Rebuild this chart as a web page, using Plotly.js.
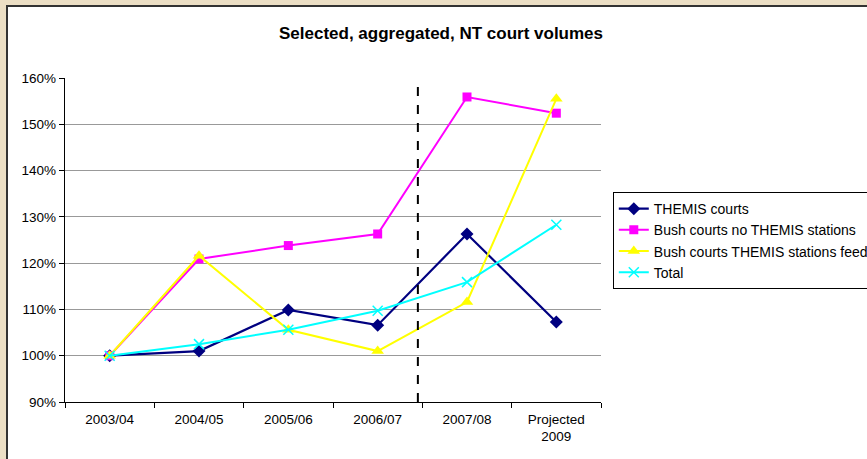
<!DOCTYPE html>
<html><head><meta charset="utf-8">
<script src="https://cdn.plot.ly/plotly-3.0.1.min.js"></script>
<style>
html,body{margin:0;padding:0;background:#ECDFC5;overflow:hidden;width:867px;height:459px;}
#wrap{position:absolute;left:6px;top:5px;width:870px;height:460px;border-left:2px solid #333;border-top:2px solid #333;background:#fff;}
#chart{width:870px;height:460px;}
</style></head>
<body><div id="wrap"><div id="chart"></div></div>
<script>
const categories = ["2003/04","2004/05","2005/06","2006/07","2007/08","Projected<br>2009"];
const themisCourts = [100, 101.0, 109.9, 106.6, 126.3, 107.3];
const bushNoThemis = [100, 120.9, 123.8, 126.3, 155.9, 152.4];
const bushThemisFeed = [100, 121.6, 105.6, 101.0, 111.6, 155.5];
const total = [100, 102.5, 105.6, 109.7, 115.9, 128.3];
const seriesNames = ["THEMIS courts","Bush courts no THEMIS stations","Bush courts THEMIS stations feed","Total"];
const dividerPosition = 3.45;

const traces = [
  {x: categories, y: themisCourts, name: seriesNames[0], mode: 'lines+markers',
   line:{color:'#000080', width:2.2}, marker:{symbol:'diamond', size:10, color:'#000080'}},
  {x: categories, y: bushNoThemis, name: seriesNames[1], mode: 'lines+markers',
   line:{color:'#FF00FF', width:2}, marker:{symbol:'square', size:9, color:'#FF00FF'}},
  {x: categories, y: bushThemisFeed, name: seriesNames[2], mode: 'lines+markers',
   line:{color:'#FFFF00', width:2}, marker:{symbol:'triangle-up', size:11, color:'#FFFF00'}},
  {x: categories, y: total, name: seriesNames[3], mode: 'lines+markers',
   line:{color:'#00FFFF', width:2}, marker:{symbol:'x-thin-open', size:10, line:{color:'#00FFFF', width:1.5}}}
];

const layout = {
  width: 870, height: 460,
  paper_bgcolor: '#fff', plot_bgcolor: '#fff',
  font: {family: 'Liberation Sans, Arial, sans-serif', size: 13.5, color: '#000'},
  margin: {l: 57, r: 277, t: 71, b: 65, autoexpand: false},
  title: {text: '<b>Selected, aggregated, NT court volumes</b>', font:{size:17}, xref:'container', x: 433/870, xanchor:'center', yref:'container', y: 1-26/460, yanchor:'middle'},
  showlegend: true,
  legend: {x: 1.022, xanchor:'left', y: 0.648, yanchor:'top', bordercolor:'#000', borderwidth:1, bgcolor:'#fff', font:{size:14}, tracegroupgap:0},
  xaxis: {type:'category', range:[-0.5,5.5], showline:true, linecolor:'#000', linewidth:1.3,
          ticks:'outside', tickson:'boundaries', ticklen:5, tickcolor:'#000', showgrid:false, zeroline:false, fixedrange:true, ticklabelstandoff:4},
  yaxis: {range:[90,160], dtick:10, ticksuffix:'%', showline:true, linecolor:'#000', linewidth:1.3,
          ticks:'outside', ticklen:5, tickcolor:'#000', showgrid:true, gridcolor:'#999', gridwidth:1, zeroline:false, fixedrange:true},
  shapes: [
    {type:'line', xref:'x', yref:'paper', x0: dividerPosition, x1: dividerPosition, y0:0, y1:1,
     line:{color:'#000', width:2, dash:'dash'}}
  ]
};
Plotly.newPlot('chart', traces, layout, {displayModeBar:false, staticPlot:true});
</script></body></html>
